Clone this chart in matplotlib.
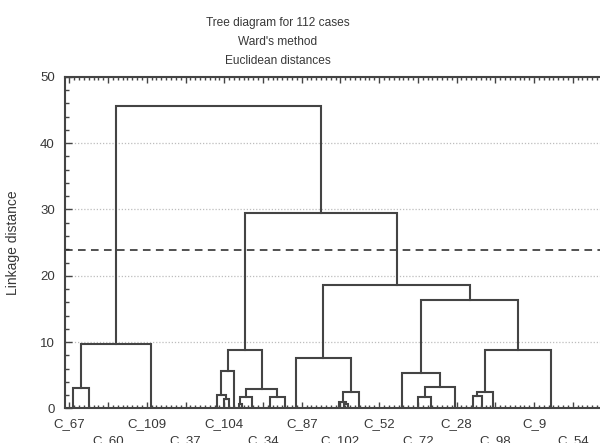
import matplotlib.pyplot as plt
from matplotlib.ticker import MultipleLocator

plt.rcParams['font.family'] = ['Liberation Sans', 'DejaVu Sans']

# leaf-level clusters (groups joined below ~0.5) : position along the case axis 1..112
leaf_pos = [1.8, 5.0, 17.9, 31.4, 33.0, 33.9, 35.0, 36.0, 36.7, 38.8, 42.5, 45.5,
            47.8, 56.8, 57.8, 58.5, 60.9, 69.8, 73.1, 75.8, 80.7, 84.4, 86.2, 88.6, 100.5]

# merge table: new nodes are numbered from len(leaf_pos) upward
merge_left = [0, 25, 4, 3, 28, 7, 30, 10, 31, 29, 14, 13, 36, 12,
              18, 39, 17, 21, 42, 43, 41, 38, 34, 26]
merge_right = [1, 2, 5, 27, 6, 8, 9, 11, 32, 33, 15, 35, 16, 37,
               19, 20, 40, 22, 23, 24, 44, 45, 46, 47]
merge_height = [3.1, 9.7, 1.4, 2.0, 5.7, 0.6, 1.7, 1.7, 2.9, 8.8, 0.6, 1.0, 2.4, 7.6,
                1.7, 3.2, 5.3, 1.9, 2.5, 8.8, 16.4, 18.6, 29.4, 45.6]

n_cases = 112
cut_height = 23.9
case_labels = ['C_67', 'C_60', 'C_109', 'C_37', 'C_104', 'C_34', 'C_87',
               'C_102', 'C_52', 'C_72', 'C_28', 'C_98', 'C_9', 'C_54']
label_pos = list(range(1, n_cases, 8))

line_col = '#444444'
text_col = '#383838'

fig = plt.figure(figsize=(6.0, 4.43), dpi=100)
ax = fig.add_axes([0.1075, 0.0783, 0.9117, 0.748])

pos = list(leaf_pos)
hgt = [0.0] * len(leaf_pos)
for l, r, h in zip(merge_left, merge_right, merge_height):
    xl, xr = pos[l], pos[r]
    ax.plot([xl, xl, xr, xr], [hgt[l], h, h, hgt[r]], color=line_col, lw=1.5,
            solid_joinstyle='miter', zorder=3)
    pos.append((xl + xr) / 2)
    hgt.append(h)

ax.axhline(cut_height, color='#222222', lw=1.1, ls=(0, (5, 3.5)), zorder=2)

ax.set_xlim(0, n_cases + 1)
ax.set_ylim(0, 50)
ax.yaxis.set_major_locator(MultipleLocator(10))
ax.yaxis.set_minor_locator(MultipleLocator(2))
ax.grid(axis='y', which='major', color='#bdbdbd', lw=0.9, ls=(0, (1, 1.5)), zorder=1)

ax.set_xticks(label_pos)
ax.set_xticklabels(case_labels)
ax.set_xticks(range(1, n_cases + 1), minor=True)
ax.tick_params(axis='x', which='both', direction='in', top=True, bottom=True,
               color=line_col, width=1.0, labelsize=9.5, labelcolor=text_col)
ax.tick_params(axis='x', which='major', length=4.5, pad=7)
ax.tick_params(axis='x', which='minor', length=2.5)
for i, t in enumerate(ax.xaxis.get_major_ticks()):
    if i % 2 == 1:
        t.set_pad(19)
ax.tick_params(axis='y', which='both', direction='in', right=False,
               color=line_col, width=1.0, labelsize=9.5, labelcolor=text_col, pad=7)
ax.tick_params(axis='y', which='major', length=5)
ax.tick_params(axis='y', which='minor', length=3)

for s in ax.spines.values():
    s.set_color(line_col)
    s.set_linewidth(1.5)

ax.set_ylabel('Linkage distance', color=text_col, fontsize=10, labelpad=14)

title_lines = ['Tree diagram for 112 cases', "Ward's method", 'Euclidean distances']
for k, line in enumerate(title_lines):
    fig.text(0.463, 0.948 - k * 0.0425, line, ha='center', va='center',
             fontsize=8.6, color=text_col)

fig.savefig('out.png', dpi=100)
